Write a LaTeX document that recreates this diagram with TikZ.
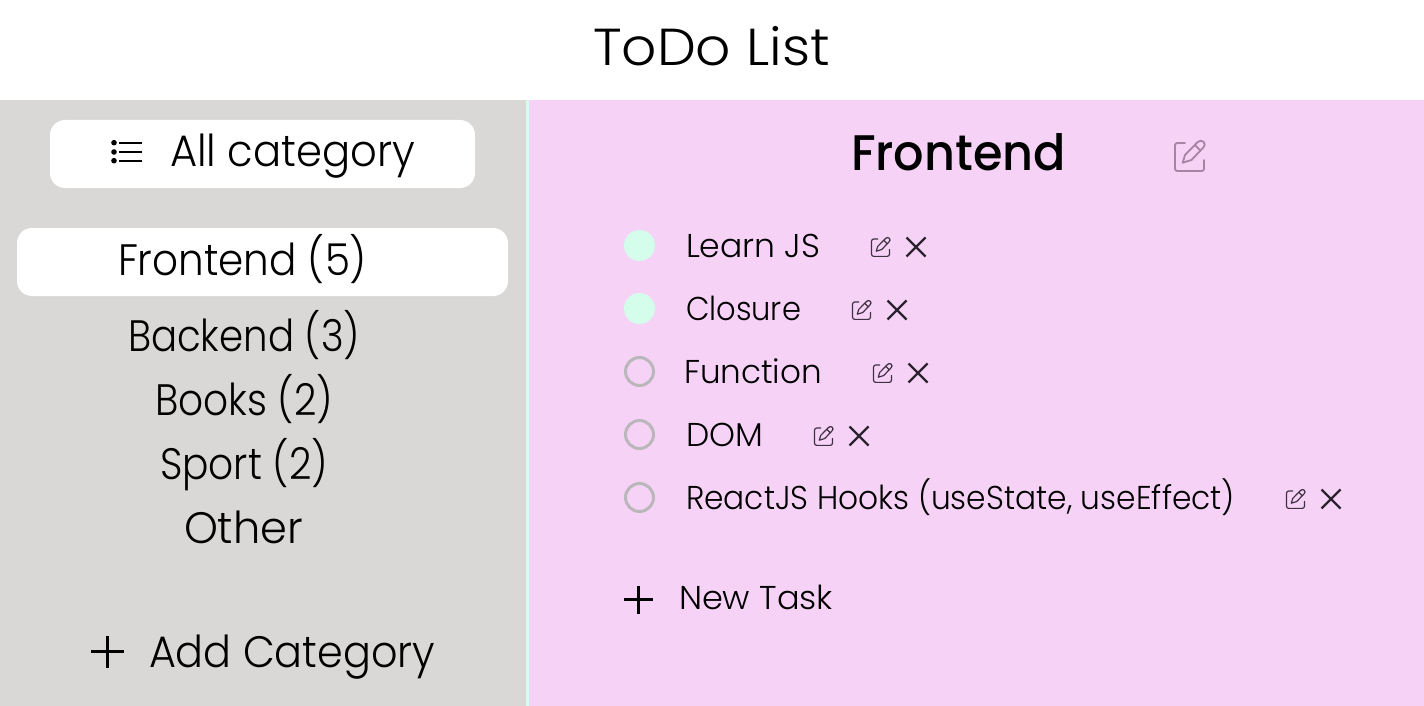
\documentclass[tikz,border=0pt]{standalone}
\usepackage{graphicx}
\usepackage{fontspec}
\setmainfont{Poppins Light}[BoldFont={Poppins Medium}]
\definecolor{panelgray}{HTML}{D9D8D6}
\definecolor{mint}{HTML}{D5FDEC}
\definecolor{pinkbg}{HTML}{F6D2F7}
\definecolor{ringgray}{HTML}{B9B7B9}
\definecolor{iconbig}{HTML}{A983A6}
\definecolor{iconsmall}{HTML}{3E3242}
\newcommand{\fitw}[3]{\resizebox{#1pt}{\height}{\fontsize{#2}{#2}\selectfont #3}}
\tikzset{
  x=1pt,y=-1pt,
  lbl/.style={anchor=base west,inner sep=0pt,outer sep=0pt,text=black},
  pill/.style={fill=white,rounded corners=15pt,draw=none},
  done/.style={circle,fill=mint,draw=none,minimum size=31pt,inner sep=0pt},
  todo/.style={circle,fill=none,draw=ringgray,line width=3pt,minimum size=28pt,inner sep=0pt},
  pics/pencilicon/.style={code={
    \draw[pic actions,line cap=round,line join=round,rounded corners=2.2pt]
      (10,0)--(0,0)--(0,28)--(29,28)--(29,17);
    \draw[pic actions,line join=round]
      (7.7,19.7)--(10,12)--(22.5,-0.8) .. controls (24.5,-2.8) and (27,-2.8) .. (28.6,-1.2)
      .. controls (30.2,0.4) and (30.2,2.6) .. (28.6,4.2)--(16.5,17)--cycle;
    \draw[pic actions] (19.8,2)--(25.8,8);
  }}
}
\begin{document}
\begin{tikzpicture}
\useasboundingbox (0,0) rectangle (1424,706);
\fill[white] (0,0) rectangle (1424,706);
\fill[panelgray] (0,100) rectangle (526,706);
\fill[mint] (526,100) rectangle (529,706);
\fill[pinkbg] (529,100) rectangle (1424,706);
\fill[pill] (50,120) rectangle (475,188);
\fill[pill] (17,228) rectangle (508,296);

\node[lbl] (title) at (593,65.5) {\fitw{237}{52}{ToDo List}};
\node[lbl] (allcat) at (170,167) {\fitw{245}{44}{All category}};
\node[lbl] (cat1) at (118,275) {\fitw{249}{44}{Frontend (5)}};
\node[lbl] (cat2) at (128,351) {\fitw{232}{44}{Backend (3)}};
\node[lbl] (cat3) at (155,415) {\fitw{178}{44}{Books (2)}};
\node[lbl] (cat4) at (160,479) {\fitw{168}{44}{Sport (2)}};
\node[lbl] (cat5) at (184,543) {\fitw{119}{44}{Other}};
\node[lbl] (addcat) at (149,667) {\fitw{286}{44}{Add Category}};
\node[lbl] (head) at (851,170) {\fitw{215}{50}{\bfseries Frontend}};
\node[lbl] (t1) at (686,257.5) {\fitw{134}{33}{Learn JS}};
\node[lbl] (t2) at (686,320.5) {\fitw{115}{33}{Closure}};
\node[lbl] (t3) at (684,383.5) {\fitw{138}{33}{Function}};
\node[lbl] (t4) at (686,446.5) {\fitw{77}{33}{DOM}};
\node[lbl] (t5) at (686,509.5) {\fitw{549}{33}{ReactJS Hooks (useState, useEffect)}};
\node[lbl] (newt) at (679,609.5) {\fitw{154}{33}{New Task}};

% list icon
\foreach \yy in {142.7,152,160.7} {
  \fill[black] (114,\yy) circle (2.8);
  \draw[black,line width=2.2pt] (119,\yy) -- (142,\yy);
}
% plus icons
\draw[black,line width=2.6pt] (91,651.5)--(124,651.5) (107.5,635.5)--(107.5,667.5);
\draw[black,line width=2.4pt] (624,599.5)--(653,599.5) (638.5,585.5)--(638.5,613.5);

% status circles
\node[done] (c1) at (639.5,245.5) {};
\node[done] (c2) at (639.5,308.5) {};
\node[todo] (c3) at (639.5,371.5) {};
\node[todo] (c4) at (639.5,434.5) {};
\node[todo] (c5) at (639.5,497.5) {};

% edit icons
\pic[draw=iconbig,line width=1.8pt] at (1175,143) {pencilicon};
\foreach \xx/\yy in {871.5/239,852.5/302,873.5/365,814.5/428,1286.5/491} {
  \pic[draw=iconsmall,line width=1.2pt,scale=.62] at (\xx,\yy) {pencilicon};
}
% close icons
\foreach \xx/\yy in {916/247,897/310,918/373,859/436,1331/499} {
  \draw[iconsmall!70!black,line width=2.4pt] (\xx-9.5,\yy-9.5)--(\xx+9.5,\yy+9.5) (\xx-9.5,\yy+9.5)--(\xx+9.5,\yy-9.5);
}
\end{tikzpicture}
\end{document}
